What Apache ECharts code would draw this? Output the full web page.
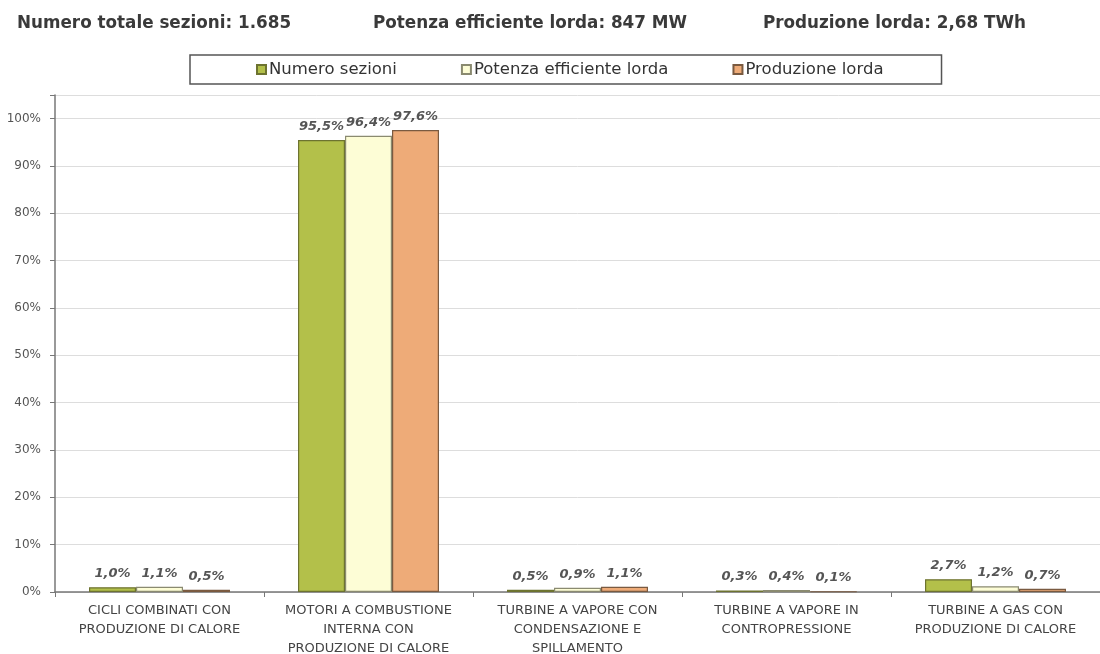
<!DOCTYPE html>
<html><head><meta charset="utf-8">
<script src="https://cdn.jsdelivr.net/npm/echarts@6/dist/echarts.min.js"></script>
<style>html,body{margin:0;padding:0;background:#fff}#c{width:1100px;height:654px}</style>
</head><body><div id="c"></div>
<script>
const categories = [
  "CICLI COMBINATI CON\nPRODUZIONE DI CALORE",
  "MOTORI A COMBUSTIONE\nINTERNA CON\nPRODUZIONE DI CALORE",
  "TURBINE A VAPORE CON\nCONDENSAZIONE E\nSPILLAMENTO",
  "TURBINE A VAPORE IN\nCONTROPRESSIONE",
  "TURBINE A GAS CON\nPRODUZIONE DI CALORE"
];
const seriesNames = ["Numero sezioni", "Potenza efficiente lorda", "Produzione lorda"];
const numeroSezioni = [1.0, 95.5, 0.5, 0.3, 2.7];
const potenzaEfficiente = [1.1, 96.4, 0.9, 0.4, 1.2];
const produzioneLorda = [0.5, 97.6, 1.1, 0.1, 0.7];
const headerTexts = ["Numero totale sezioni: 1.685", "Potenza efficiente lorda: 847 MW", "Produzione lorda: 2,68 TWh"];

const colors = ["#b3c04a", "#fdfdd6", "#eeab78"];
const borders = ["#6d7330", "#8a8a70", "#7a5a40"];
const font = "'DejaVu Sans', Verdana, sans-serif";
const data = [numeroSezioni, potenzaEfficiente, produzioneLorda];

const chart = echarts.init(document.getElementById('c'));
chart.setOption({
  backgroundColor: '#fff',
  animation: false,
  title: [
    {text: headerTexts[0], left: 12, top: 10},
    {text: headerTexts[1], left: 368, top: 10},
    {text: headerTexts[2], left: 758, top: 10}
  ].map(t => Object.assign(t, {textStyle: {fontFamily: font, fontSize: 16.8, fontWeight: 'bold', color: '#3a3a3a'}})),
  legend: {
    top: 55, left: 190, itemGap: 64, itemWidth: 9, itemHeight: 9,
    icon: 'rect',
    padding: [6, 58, 6, 66],
    borderColor: '#555', borderWidth: 1.5,
    textStyle: {fontFamily: font, fontSize: 16.5, color: '#333', padding: [0,0,0,-2]},
    data: seriesNames
  },
  grid: {left: 55, right: 0, top: 95, bottom: 62, outerBoundsMode: 'none', containLabel: false},
  xAxis: {
    type: 'category', data: categories,
    axisLine: {lineStyle: {color: '#777', width: 1.5}},
    axisTick: {show: true, alignWithLabel: false, lineStyle: {color: '#777'}},
    axisLabel: {fontFamily: font, fontSize: 13, color: '#444', lineHeight: 19, interval: 0, margin: 9}
  },
  yAxis: {
    type: 'value', min: 0, max: 105, interval: 10,
    axisLine: {show: true, lineStyle: {color: '#777', width: 1.5}},
    axisTick: {show: true, length: 5, lineStyle: {color: '#777'}},
    axisLabel: {fontFamily: font, fontSize: 12, color: '#555', margin: 14,
      formatter: v => (v % 10 === 0 ? v + '%' : '')},
    splitLine: {show: true, lineStyle: {color: '#ddd', width: 1}}
  },
  series: seriesNames.map((name, i) => ({
    name, type: 'bar', data: data[i], barWidth: 47, barGap: '0%',
    itemStyle: {color: colors[i], borderColor: borders[i], borderWidth: 1.2},
    label: {show: true, position: 'top', distance: 7, fontFamily: font, fontSize: 13,
      fontStyle: 'italic', fontWeight: 'bold', color: '#555',
      formatter: p => p.value.toFixed(1).replace('.', ',') + '%'}
  }))
});
</script></body></html>
